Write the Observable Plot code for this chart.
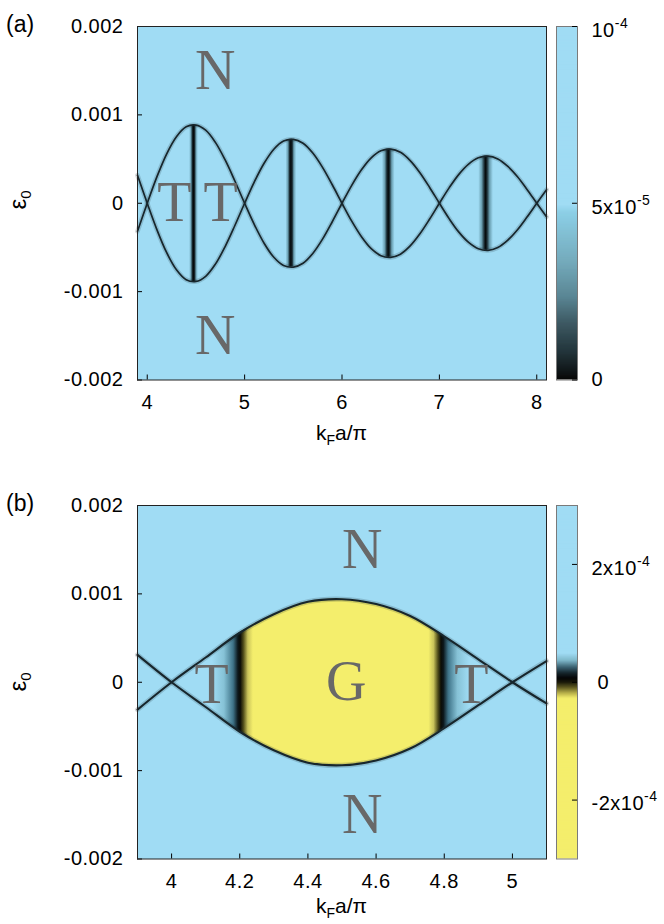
<!DOCTYPE html>
<html>
<head>
<meta charset="utf-8">
<script src="https://cdn.jsdelivr.net/npm/d3@7"></script>
<script src="https://cdn.jsdelivr.net/npm/@observablehq/plot@0.6"></script>
<style>
html, body { margin:0; padding:0; background:#fff; }
#root { position:relative; width:664px; height:924px; overflow:hidden; font-family:"Liberation Sans", Arial, sans-serif; color:#000; }
#root > svg { position:absolute; }
.lbl { position:absolute; font-size:20px; line-height:24px; white-space:nowrap; }
.lbl sub { font-size:14px; vertical-align:-5px; line-height:0; }
.pn { font-size:23px; }
.rot { width:40px; height:24px; text-align:center; transform:rotate(-90deg); font-size:24px; }
.rot sub { font-size:15px; }
.xl { width:200px; text-align:center; font-size:21px; }
</style>
</head>
<body>
<div id="root"></div>
<script>
// ---------- data ----------
const yTicks = [-0.002, -0.001, 0, 0.001, 0.002];

// panel (a)
const xTicksA = [4, 5, 6, 7, 8];
const kA = [3.9, 4.0, 4.1, 4.2, 4.3, 4.4, 4.5, 4.6, 4.7, 4.8, 4.9,
            5.0, 5.1, 5.2, 5.3, 5.4, 5.5, 5.6, 5.7, 5.8, 5.9,
            6.0, 6.1, 6.2, 6.3, 6.4, 6.5, 6.6, 6.7, 6.8, 6.9,
            7.0, 7.1, 7.2, 7.3, 7.4, 7.5, 7.6, 7.7, 7.8, 7.9,
            8.0, 8.1];
const epsA = [-3.17e-4, 0, 3.01e-4, 5.60e-4, 7.53e-4, 8.65e-4, 8.85e-4, 8.27e-4, 6.89e-4, 4.90e-4, 2.52e-4,
              0, -2.42e-4, -4.52e-4, -6.11e-4, -7.04e-4, -7.22e-4, -6.79e-4, -5.68e-4, -4.06e-4, -2.09e-4,
              0, 2.03e-4, 3.79e-4, 5.14e-4, 5.94e-4, 6.12e-4, 5.76e-4, 4.83e-4, 3.46e-4, 1.79e-4,
              0, -1.74e-4, -3.27e-4, -4.43e-4, -5.14e-4, -5.33e-4, -5.01e-4, -4.20e-4, -3.02e-4, -1.56e-4,
              0, 1.53e-4];
const bandKA = [4.48, 5.48, 6.48, 7.48];
const bandHalfA = [0.045, 0.055, 0.065, 0.075];
const regionTextA = ["N", "N", "T", "T"];
const regionKA = [4.70, 4.70, 4.28, 4.755];
const regionEpsA = [0.0015, -0.0015, 0, 0];
const cbarTicksA = [0, 5e-5, 1e-4];
const cbarLabelsA = ["0", "5x10^-5", "10^-4"];
const cbarStopsA = [0, 1.8e-6, 7.5e-6, 1.6e-5, 2.33e-5, 3.3e-5, 4.71e-5, 4.94e-5, 1e-4];
const cbarColorsA = ["#080808", "#0f1416", "#22343a", "#3e5a64", "#5a8694", "#74aabb", "#8ccfe6", "#a0dcf4", "#a0dcf4"];

// panel (b)
const xTicksB = [4, 4.2, 4.4, 4.6, 4.8, 5];
const kB = [3.9, 4.0, 4.1, 4.2, 4.3, 4.4, 4.5, 4.6, 4.7, 4.8, 4.9, 5.0, 5.1];
const epsB = [-3.1e-4, 0, 2.8e-4, 5.6e-4, 7.7e-4, 9.1e-4, 9.4e-4, 8.85e-4, 7.5e-4, 5.2e-4, 2.6e-4, 0, -2.4e-4];
const bandKB = [4.2, 4.795];
const regionTextB = ["N", "N", "T", "G", "T"];
const regionKB = [4.56, 4.56, 4.118, 4.513, 4.88];
const regionEpsB = [0.0015, -0.0015, -0.00003, 0, -0.00003];
const cbarTicksB = [-2e-4, 0, 2e-4];
const cbarLabelsB = ["-2x10^-4", " 0", "2x10^-4"];
const cbarStopsB = [-3e-4, -2.9e-5, -2e-5, -1e-5, -1.7e-6, 5e-6, 1.36e-5, 2.37e-5, 3.56e-5, 4.75e-5, 3e-4];
const cbarColorsB = ["#f4ee6c", "#f4ee6c", "#b8b04a", "#5a5620", "#1a1a0a", "#050505", "#15242a", "#3a6070", "#7fb8ca", "#a0dcf4", "#a0dcf4"];

// ---------- styling ----------
const BLUE = "#a0dcf4", YELLOW = "#f4ee6c", DARK = "#17262c";
const SANS = "'Liberation Sans', Arial, Helvetica, sans-serif";
const SERIF = "'Liberation Serif', 'Times New Roman', serif";
const W = 560, H = 450, ML = 137, MR = 14, MT = 26, MB = 70.5;
const FW = W - ML - MR, FH = H - MT - MB;
const NS = "http://www.w3.org/2000/svg";
const root = document.getElementById("root");
const baseStyle = {background: "transparent", fontFamily: SANS, fontSize: "20px", color: "#000", overflow: "visible", letterSpacing: "0.5px"};

function mainPlot(k, eps, xDomain, xTicks, texts, tk, te, id, lw) {
  const rows = k.map((v, i) => ({k: v, e: eps[i], m: -eps[i]}));
  const lab = texts.map((t, i) => ({t, k: tk[i], e: te[i]}));
  const curve = "catmull-rom";
  return Plot.plot({
    width: W, height: H, marginLeft: ML, marginRight: MR, marginTop: MT, marginBottom: MB,
    x: {domain: xDomain}, y: {domain: [-0.002, 0.002]},
    style: baseStyle,
    marks: [
      Plot.frame({fill: BLUE}),
      Plot.areaY(rows, {x: "k", y1: "e", y2: "m", curve, fill: "#000", ariaDescription: id}),
      Plot.line(rows, {x: "k", y: "e", curve, stroke: DARK, strokeWidth: lw + 3, strokeOpacity: 0.18}),
      Plot.line(rows, {x: "k", y: "m", curve, stroke: DARK, strokeWidth: lw + 3, strokeOpacity: 0.18}),
      Plot.line(rows, {x: "k", y: "e", curve, stroke: DARK, strokeWidth: lw}),
      Plot.line(rows, {x: "k", y: "m", curve, stroke: DARK, strokeWidth: lw}),
      Plot.text(lab, {x: "k", y: "e", text: "t", fontFamily: SERIF, fontSize: 56, fill: "#686868"}),
      Plot.ruleX(xTicks, {insetTop: FH - 5, stroke: "#000"}),
      Plot.ruleY(yTicks, {insetRight: FW - 5, stroke: "#000"}),
      Plot.frame({stroke: "#222"}),
      Plot.axisX(xTicks, {tickSize: 0, tickPadding: 15, tickFormat: d => String(d), label: null}),
      Plot.axisY(yTicks, {tickSize: 0, tickPadding: 14, tickFormat: d => String(d), label: null})
    ]
  });
}

function colorbar(ticks, labels, stops, colors, domain) {
  const n = 320, step = (domain[1] - domain[0]) / n;
  const ramp = d3.range(n).map(i => domain[0] + i * step);
  return Plot.plot({
    width: 100, height: H, marginLeft: 1, marginRight: 78, marginTop: MT, marginBottom: MB,
    x: {domain: [0, 1], axis: null},
    y: {domain, axis: null},
    color: {type: "linear", domain: stops, range: colors},
    style: baseStyle,
    marks: [
      Plot.rect(ramp, {x1: 0, x2: 1, y1: d => d, y2: d => Math.min(domain[1], d + 2 * step), fill: d => d}),
      Plot.frame({stroke: "#7a7a7a"}),
      Plot.ruleY(ticks, {insetLeft: 16, stroke: "#000"}),
      Plot.axisY(ticks, {anchor: "right", tickSize: 0, tickPadding: 14, tickFormat: d => labels[ticks.indexOf(d)], label: null})
    ]
  });
}

function paintGradient(chart, desc, id, stops) {
  const sx = chart.scale("x");
  const X = sx.apply ? (v => sx.apply(v)) : d3.scaleLinear(sx.domain, sx.range);
  const [d0, d1] = sx.domain;
  const x0 = X(d0), x1 = X(d1);
  const defs = document.createElementNS(NS, "defs");
  const lg = document.createElementNS(NS, "linearGradient");
  lg.setAttribute("id", id);
  lg.setAttribute("gradientUnits", "userSpaceOnUse");
  lg.setAttribute("x1", x0); lg.setAttribute("x2", x1);
  lg.setAttribute("y1", 0); lg.setAttribute("y2", 0);
  stops.forEach(([k, c]) => {
    const s = document.createElementNS(NS, "stop");
    s.setAttribute("offset", Math.max(0, Math.min(1, (X(k) - x0) / (x1 - x0))));
    s.setAttribute("stop-color", c);
    lg.appendChild(s);
  });
  defs.appendChild(lg);
  chart.insertBefore(defs, chart.firstChild);
  let gs = chart.querySelectorAll(`[aria-description="${desc}"]`);
  if (!gs.length) gs = chart.querySelectorAll(`g[aria-label="area"]`);
  gs.forEach(g => {
    g.setAttribute("fill", `url(#${id})`);
    g.querySelectorAll("path").forEach(p => p.removeAttribute("fill"));
  });
}

function supify(svg) {
  svg.querySelectorAll("text").forEach(t => {
    const s = t.textContent;
    if (!s.includes("^")) return;
    const [base, exp] = s.split("^");
    while (t.firstChild) t.removeChild(t.firstChild);
    t.appendChild(document.createTextNode(base));
    const sp = document.createElementNS(NS, "tspan");
    sp.setAttribute("dy", "-9");
    sp.setAttribute("font-size", "14px");
    sp.textContent = exp;
    t.appendChild(sp);
    t.setAttribute("transform", (t.getAttribute("transform") || "") + " translate(0,4)");
  });
}

function place(el, left, top) { el.style.left = left + "px"; el.style.top = top + "px"; root.appendChild(el); }
function label(html, cls, left, top) {
  const d = document.createElement("div");
  d.className = "lbl " + cls; d.innerHTML = html;
  place(d, left, top);
}

// ----- panel (a) -----
const pA = mainPlot(kA, epsA, [3.9, 8.1], xTicksA, regionTextA, regionKA, regionEpsA, "lensA", 1.7);
const stopsA = [[3.9, BLUE]];
bandKA.forEach((b, i) => {
  const h = bandHalfA[i];
  stopsA.push([b - h, BLUE], [b - h * 0.55, "#6a9fb1"], [b - 0.015, "#1c2f36"], [b, "#05090a"],
              [b + 0.015, "#1c2f36"], [b + h * 0.55, "#6a9fb1"], [b + h, BLUE]);
});
stopsA.push([8.1, BLUE]);
paintGradient(pA, "lensA", "gA", stopsA);
place(pA, 0, 0);
const cA = colorbar(cbarTicksA, cbarLabelsA, cbarStopsA, cbarColorsA, [0, 1e-4]);
supify(cA);
place(cA, 555, 0);

// ----- panel (b) -----
const pB = mainPlot(kB, epsB, [3.9, 5.1], xTicksB, regionTextB, regionKB, regionEpsB, "lensB", 2.1);
const [bl, br] = bandKB;
const stopsB = [[3.9, BLUE],
  [bl - 0.08, BLUE], [bl - 0.045, "#86c2d6"], [bl - 0.018, "#3e7388"], [bl - 0.004, "#0c171b"],
  [bl + 0.003, "#0b0c06"], [bl + 0.012, "#4e4b1a"], [bl + 0.025, "#c9c35a"], [bl + 0.04, YELLOW],
  [br - 0.04, YELLOW], [br - 0.025, "#c9c35a"], [br - 0.012, "#4e4b1a"], [br - 0.003, "#0b0c06"],
  [br + 0.004, "#0c171b"], [br + 0.018, "#3e7388"], [br + 0.045, "#86c2d6"], [br + 0.08, BLUE],
  [5.1, BLUE]];
paintGradient(pB, "lensB", "gB", stopsB);
place(pB, 0, 479);
const cB = colorbar(cbarTicksB, cbarLabelsB, cbarStopsB, cbarColorsB, [-3e-4, 3e-4]);
supify(cB);
place(cB, 555, 479);

// ----- titles / axis labels -----
label("(a)", "pn", 6, 12);
label("(b)", "pn", 6, 490.5);
label("&epsilon;<sub>0</sub>", "rot", -2, 188);
label("&epsilon;<sub>0</sub>", "rot", -2, 670);
label("k<sub>F</sub>a/&pi;", "xl", 241.5, 421);
label("k<sub>F</sub>a/&pi;", "xl", 241.5, 894);
</script>
</body>
</html>
